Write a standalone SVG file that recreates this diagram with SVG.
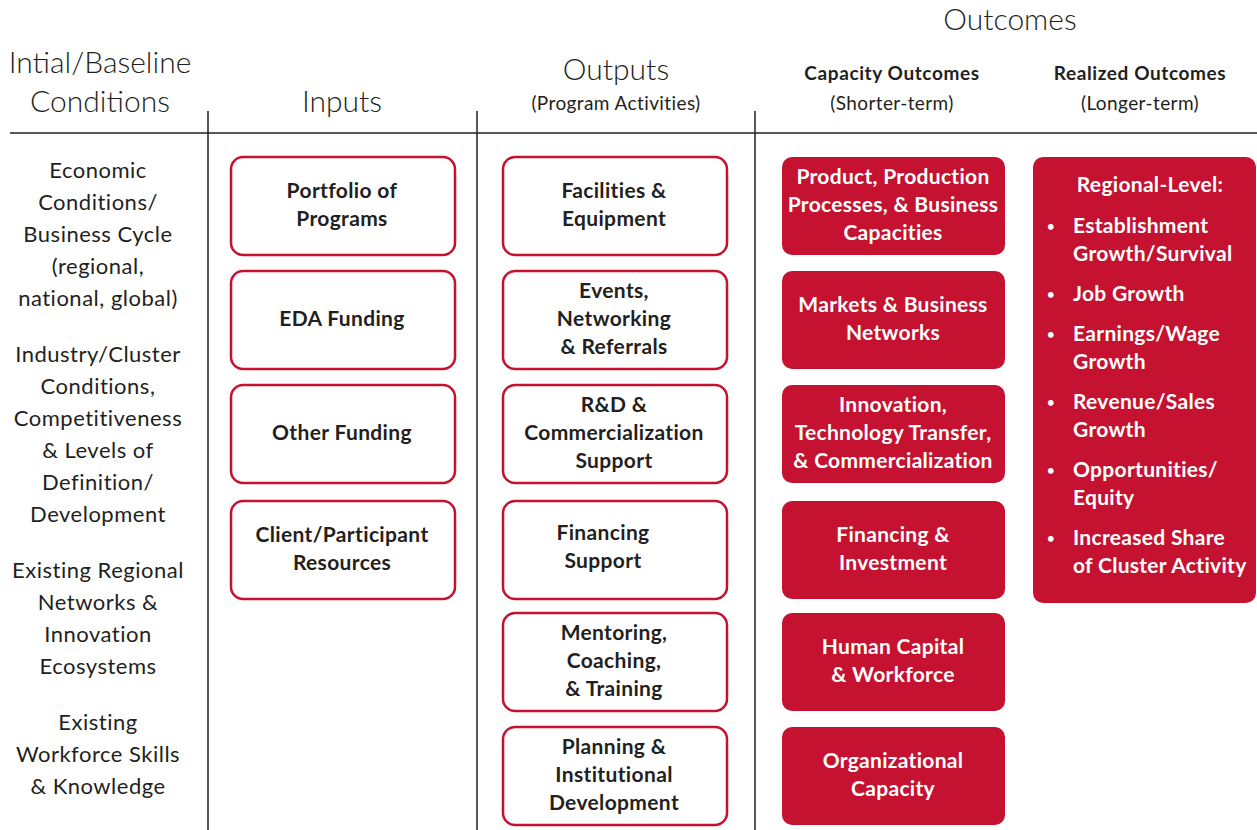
<svg xmlns="http://www.w3.org/2000/svg" width="1257" height="830" viewBox="0 0 1257 830">
<style>
.hd{font-family:Lato,"Open Sans",sans-serif;font-weight:300;fill:#231F20;text-anchor:middle}
.sub{font-family:Lato,"Open Sans",sans-serif;font-weight:400;font-size:19px;letter-spacing:0.4px;fill:#231F20;text-anchor:middle}
.subb{font-family:Lato,"Open Sans",sans-serif;font-weight:700;font-size:19px;letter-spacing:0.6px;fill:#231F20;text-anchor:middle}
.cond{font-family:Lato,"Open Sans",sans-serif;font-weight:400;font-size:22px;letter-spacing:0.5px;fill:#231F20;text-anchor:middle}
.ob{fill:#fff;stroke:#C41230;stroke-width:2.5}
.fb{fill:#C41230}
.bt{font-family:Lato,"Open Sans",sans-serif;font-weight:700;font-size:21px;letter-spacing:0.35px;fill:#231F20;text-anchor:middle}
.wt{font-family:Lato,"Open Sans",sans-serif;font-weight:700;font-size:21px;letter-spacing:0.3px;fill:#fff;text-anchor:middle}
.wl{font-family:Lato,"Open Sans",sans-serif;font-weight:700;font-size:21px;letter-spacing:0.3px;fill:#fff}
.rule{stroke:#231F20;stroke-width:1.5;fill:none}
</style>
<rect width="1257" height="830" fill="#fff"/>
<g id="headers">
<text class="hd" x="100" y="73" font-size="30">Intial/Baseline</text>
<text class="hd" x="100" y="112" font-size="30">Conditions</text>
<text class="hd" x="342" y="112" font-size="30">Inputs</text>
<text class="hd" x="616" y="80" font-size="30">Outputs</text>
<text class="sub" x="616" y="110">(Program Activities)</text>
<text class="hd" x="1010" y="30" font-size="30">Outcomes</text>
<text class="subb" x="892" y="80">Capacity Outcomes</text>
<text class="sub" x="892" y="110">(Shorter-term)</text>
<text class="subb" x="1140" y="80">Realized Outcomes</text>
<text class="sub" x="1140" y="110">(Longer-term)</text>
</g>
<g id="rules">
<line class="rule" x1="10" y1="133" x2="1257" y2="133"/>
<line class="rule" x1="208" y1="111" x2="208" y2="830"/>
<line class="rule" x1="477" y1="111" x2="477" y2="830"/>
<line class="rule" x1="755" y1="111" x2="755" y2="830"/>
</g>
<g id="conditions">
<text class="cond" x="98" y="178">Economic</text>
<text class="cond" x="98" y="210">Conditions/</text>
<text class="cond" x="98" y="242">Business Cycle</text>
<text class="cond" x="98" y="274">(regional,</text>
<text class="cond" x="98" y="306">national, global)</text>
<text class="cond" x="98" y="362">Industry/Cluster</text>
<text class="cond" x="98" y="394">Conditions,</text>
<text class="cond" x="98" y="426">Competitiveness</text>
<text class="cond" x="98" y="458">&amp; Levels of</text>
<text class="cond" x="98" y="490">Definition/</text>
<text class="cond" x="98" y="522">Development</text>
<text class="cond" x="98" y="578">Existing Regional</text>
<text class="cond" x="98" y="610">Networks &amp;</text>
<text class="cond" x="98" y="642">Innovation</text>
<text class="cond" x="98" y="674">Ecosystems</text>
<text class="cond" x="98" y="730">Existing</text>
<text class="cond" x="98" y="762">Workforce Skills</text>
<text class="cond" x="98" y="794">&amp; Knowledge</text>
</g>
<g id="in1"><rect class="ob" x="231" y="157" width="224" height="98" rx="12"/><text class="bt" x="342" y="198">Portfolio of</text><text class="bt" x="342" y="226">Programs</text></g>
<g id="in2"><rect class="ob" x="231" y="271" width="224" height="98" rx="12"/><text class="bt" x="342" y="326">EDA Funding</text></g>
<g id="in3"><rect class="ob" x="231" y="385" width="224" height="98" rx="12"/><text class="bt" x="342" y="440">Other Funding</text></g>
<g id="in4"><rect class="ob" x="231" y="501" width="224" height="98" rx="12"/><text class="bt" x="342" y="542">Client/Participant</text><text class="bt" x="342" y="570">Resources</text></g>
<g id="out1"><rect class="ob" x="503" y="157" width="224" height="98" rx="12"/><text class="bt" x="614" y="198">Facilities &amp;</text><text class="bt" x="614" y="226">Equipment</text></g>
<g id="out2"><rect class="ob" x="503" y="271" width="224" height="98" rx="12"/><text class="bt" x="614" y="298">Events,</text><text class="bt" x="614" y="326">Networking</text><text class="bt" x="614" y="354">&amp; Referrals</text></g>
<g id="out3"><rect class="ob" x="503" y="385" width="224" height="98" rx="12"/><text class="bt" x="614" y="412">R&amp;D &amp;</text><text class="bt" x="614" y="440">Commercialization</text><text class="bt" x="614" y="468">Support</text></g>
<g id="out4"><rect class="ob" x="503" y="501" width="224" height="98" rx="12"/><text class="bt" x="603" y="540">Financing</text><text class="bt" x="603" y="568">Support</text></g>
<g id="out5"><rect class="ob" x="503" y="613" width="224" height="98" rx="12"/><text class="bt" x="614" y="640">Mentoring,</text><text class="bt" x="614" y="668">Coaching,</text><text class="bt" x="614" y="696">&amp; Training</text></g>
<g id="out6"><rect class="ob" x="503" y="727" width="224" height="98" rx="12"/><text class="bt" x="614" y="754">Planning &amp;</text><text class="bt" x="614" y="782">Institutional</text><text class="bt" x="614" y="810">Development</text></g>
<g id="cap1"><rect class="fb" x="782" y="157" width="223" height="98" rx="10"/><text class="wt" x="893" y="184">Product, Production</text><text class="wt" x="893" y="212">Processes, &amp; Business</text><text class="wt" x="893" y="240">Capacities</text></g>
<g id="cap2"><rect class="fb" x="782" y="271" width="223" height="98" rx="10"/><text class="wt" x="893" y="312">Markets &amp; Business</text><text class="wt" x="893" y="340">Networks</text></g>
<g id="cap3"><rect class="fb" x="782" y="385" width="223" height="98" rx="10"/><text class="wt" x="893" y="412">Innovation,</text><text class="wt" x="893" y="440">Technology Transfer,</text><text class="wt" x="893" y="468">&amp; Commercialization</text></g>
<g id="cap4"><rect class="fb" x="782" y="501" width="223" height="98" rx="10"/><text class="wt" x="893" y="542">Financing &amp;</text><text class="wt" x="893" y="570">Investment</text></g>
<g id="cap5"><rect class="fb" x="782" y="613" width="223" height="98" rx="10"/><text class="wt" x="893" y="654">Human Capital</text><text class="wt" x="893" y="682">&amp; Workforce</text></g>
<g id="cap6"><rect class="fb" x="782" y="727" width="223" height="98" rx="10"/><text class="wt" x="893" y="768">Organizational</text><text class="wt" x="893" y="796">Capacity</text></g>
<g id="realized">
<rect class="fb" x="1033" y="157" width="223" height="446" rx="10"/>
<text class="wt" x="1150" y="192">Regional-Level:</text>
<g class="wl">
<text x="1047" y="231" font-size="13">•</text><text x="1073" y="233">Establishment</text><text x="1073" y="261">Growth/Survival</text>
<text x="1047" y="299" font-size="13">•</text><text x="1073" y="301">Job Growth</text>
<text x="1047" y="339" font-size="13">•</text><text x="1073" y="341">Earnings/Wage</text><text x="1073" y="369">Growth</text>
<text x="1047" y="407" font-size="13">•</text><text x="1073" y="409">Revenue/Sales</text><text x="1073" y="437">Growth</text>
<text x="1047" y="475" font-size="13">•</text><text x="1073" y="477">Opportunities/</text><text x="1073" y="505">Equity</text>
<text x="1047" y="543" font-size="13">•</text><text x="1073" y="545">Increased Share</text><text x="1073" y="573">of Cluster Activity</text>
</g>
</g>
<g id="connectors"></g>
</svg>
